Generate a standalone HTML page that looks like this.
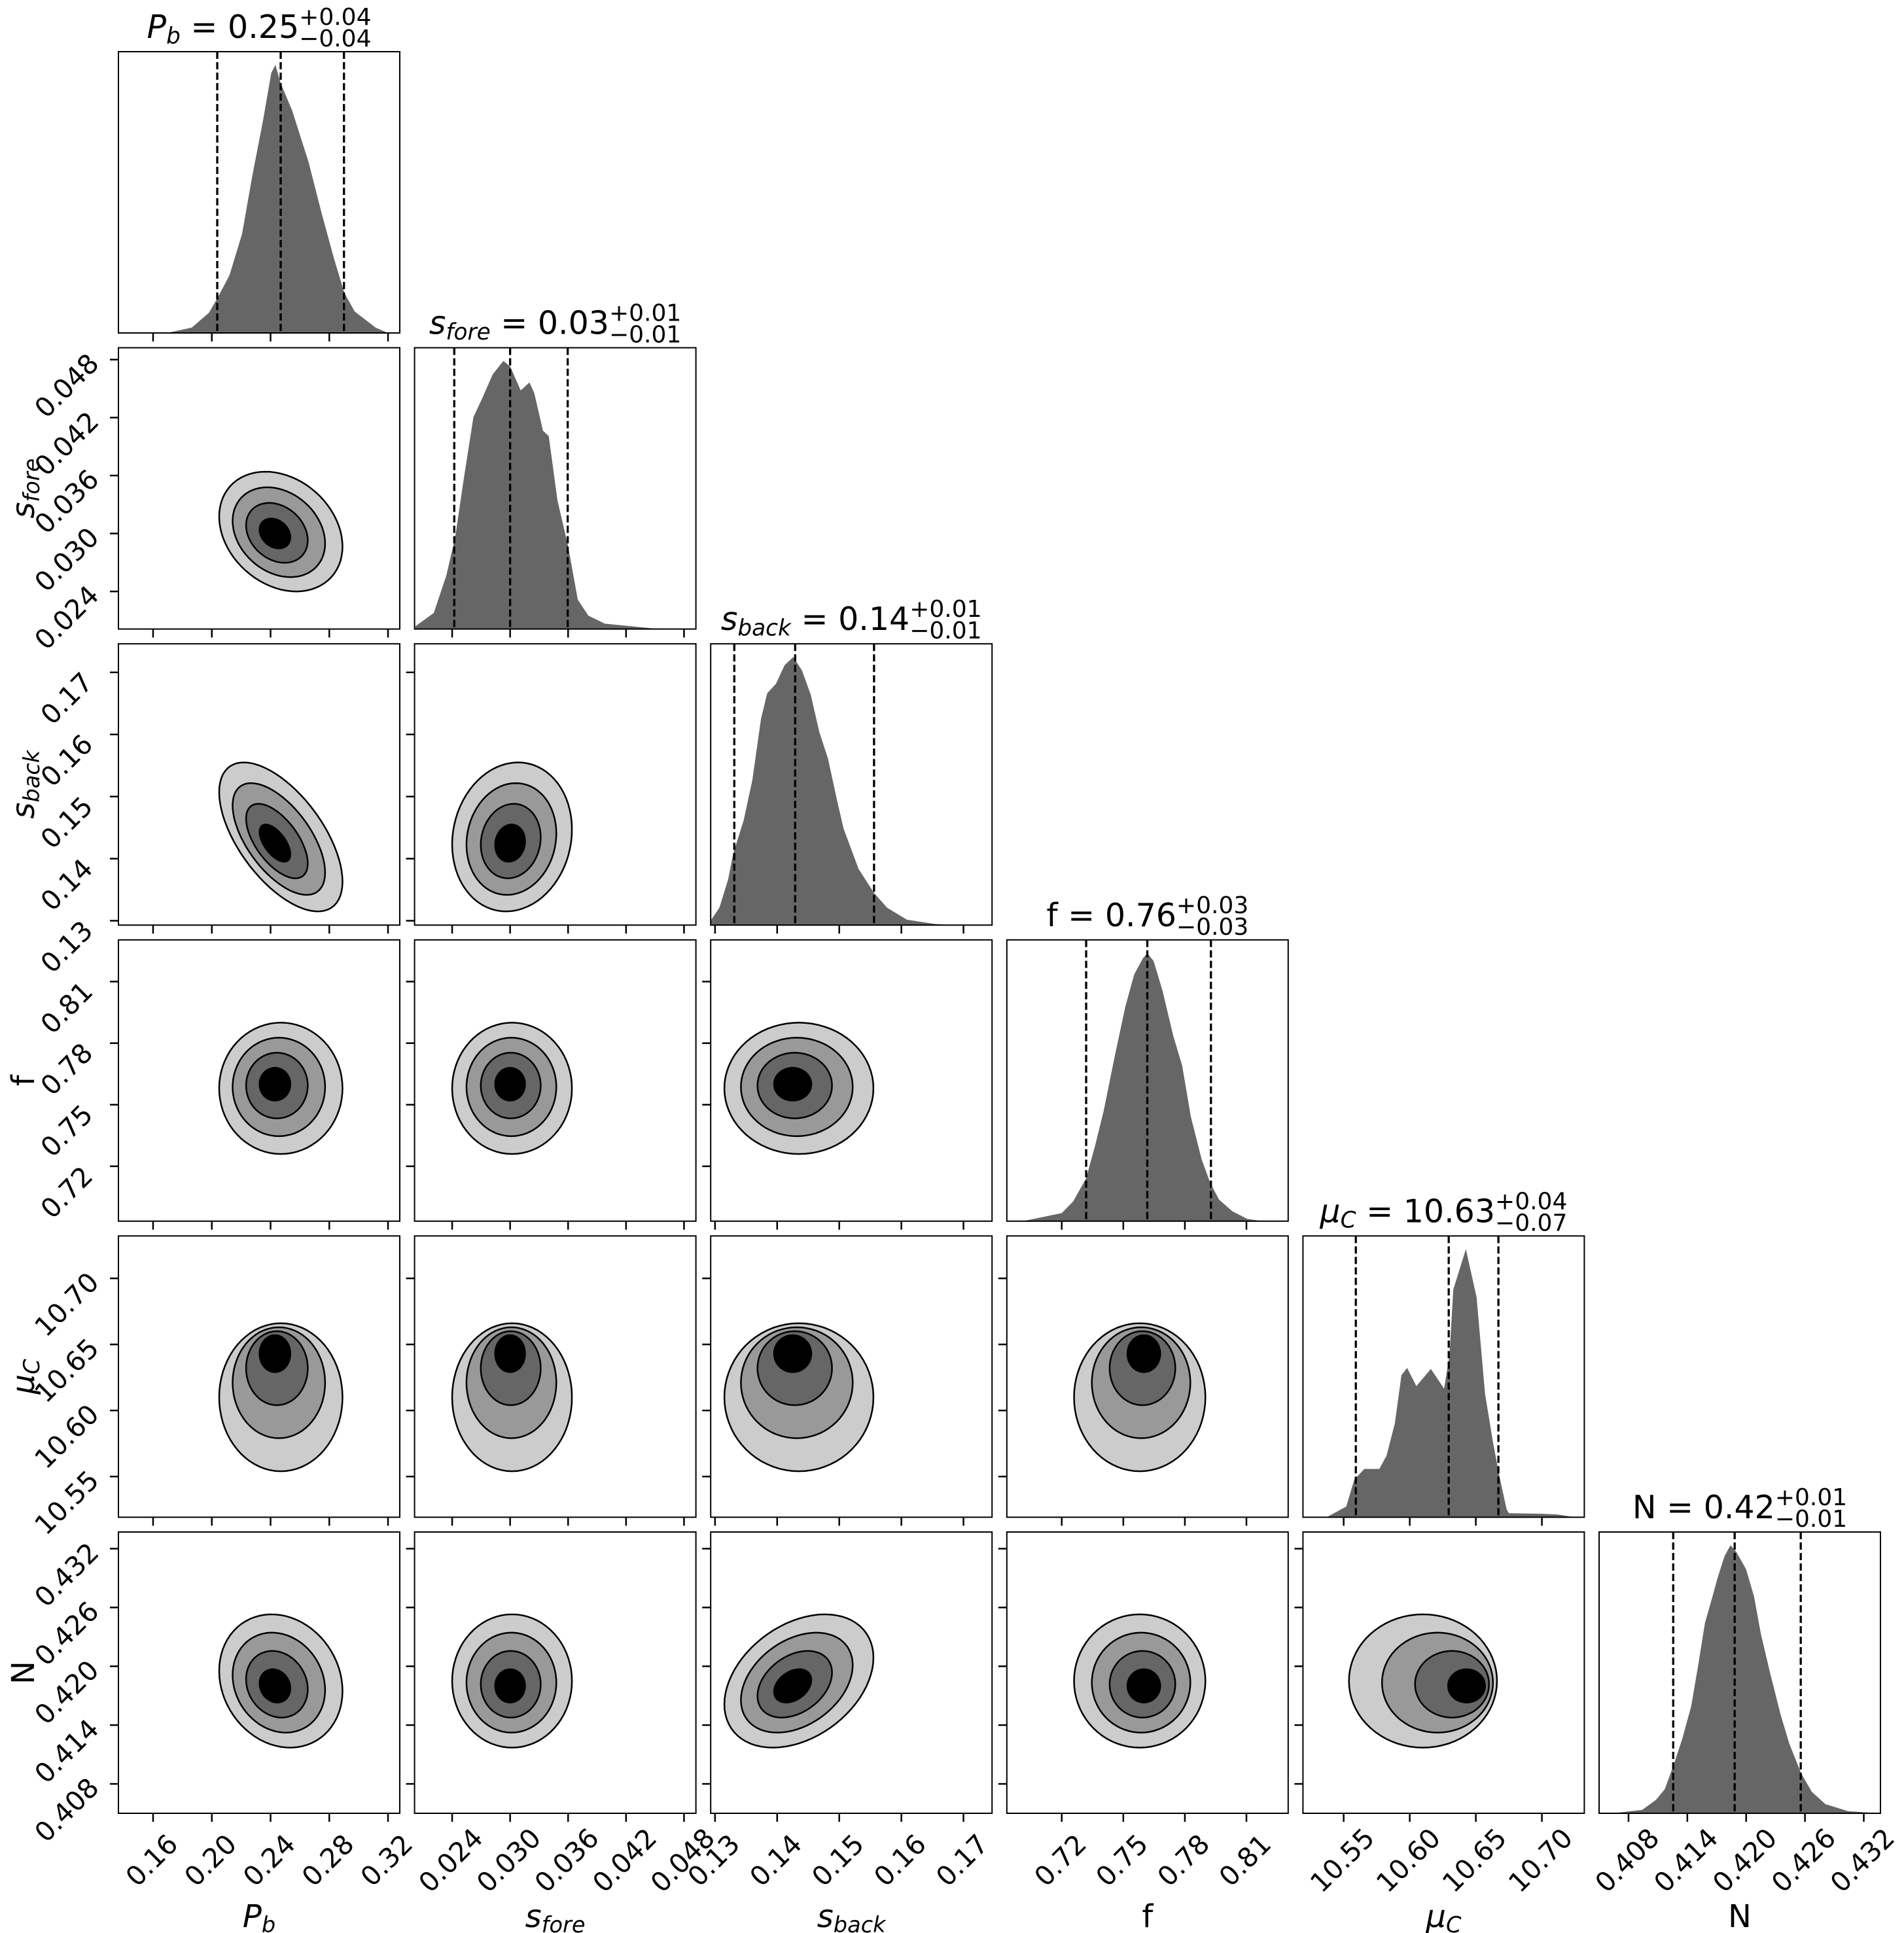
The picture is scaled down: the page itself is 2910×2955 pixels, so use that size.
<!DOCTYPE html>
<html><head><meta charset="utf-8">
<style>
html,body{margin:0;padding:0;background:#fff;}
svg{display:block;font-family:"DejaVu Sans","Liberation Sans",sans-serif;}
</style></head>
<body>
<svg id="fig" width="2910" height="2955" viewBox="0 0 2910 2955" xmlns="http://www.w3.org/2000/svg"></svg>
<script>
// ---- data ----
const paramNames = ["Pb","sfore","sback","f","muC","N"];
const rangeMin = [0.1364, 0.02011, 0.1293, 0.69325, 10.5192, 0.4050];
const rangeMax = [0.3280, 0.04923, 0.1746, 0.83034, 10.7321, 0.4337];
const tickPb = [0.16,0.20,0.24,0.28,0.32];
const tickSfore = [0.024,0.030,0.036,0.042,0.048];
const tickSback = [0.13,0.14,0.15,0.16,0.17];
const tickF = [0.72,0.75,0.78,0.81];
const tickMuC = [10.55,10.60,10.65,10.70];
const tickN = [0.408,0.414,0.420,0.426,0.432];
const tickLabelsPb = ["0.16","0.20","0.24","0.28","0.32"];
const tickLabelsSfore = ["0.024","0.030","0.036","0.042","0.048"];
const tickLabelsSback = ["0.13","0.14","0.15","0.16","0.17"];
const tickLabelsF = ["0.72","0.75","0.78","0.81"];
const tickLabelsMuC = ["10.55","10.60","10.65","10.70"];
const tickLabelsN = ["0.408","0.414","0.420","0.426","0.432"];
// quantiles (16, 50, 84)
const q16 = [0.2037, 0.02422, 0.1331, 0.7319, 10.5592, 0.41256];
const q50 = [0.2469, 0.03000, 0.1429, 0.7617, 10.6295, 0.41883];
const q84 = [0.2900, 0.03596, 0.1556, 0.7927, 10.6671, 0.42557];
// 1D histogram curves: values and relative heights
const histPbX = [0.1694,0.1864,0.198,0.2038,0.212,0.2206,0.2277,0.2348,0.2405,0.2433,0.247,0.2547,0.266,0.2746,0.2831,0.2902,0.2973,0.3115,0.32];
const histPbY = [0,0.02,0.075,0.13,0.215,0.37,0.59,0.79,0.97,1,0.93,0.83,0.635,0.45,0.28,0.15,0.08,0.02,0];
const histSforeX = [0.0202,0.0221,0.0234,0.0243,0.0252,0.0262,0.0271,0.0282,0.0293,0.030,0.0311,0.032,0.0325,0.0334,0.034,0.0349,0.036,0.037,0.0381,0.0398,0.0446,0.047];
const histSforeY = [0.01,0.06,0.2,0.34,0.56,0.79,0.86,0.95,1,0.98,0.89,0.92,0.88,0.74,0.72,0.48,0.31,0.11,0.05,0.02,0.003,0];
const histSbackX = [0.1293,0.1307,0.1321,0.1329,0.1346,0.1360,0.1374,0.1384,0.1398,0.1412,0.1426,0.1440,0.1454,0.1468,0.1482,0.1496,0.1507,0.1531,0.1556,0.1577,0.1609,0.1655,0.1686];
const histSbackY = [0.017,0.065,0.17,0.265,0.39,0.54,0.77,0.865,0.9,0.97,1,0.95,0.86,0.72,0.62,0.47,0.36,0.21,0.12,0.065,0.02,0.004,0];
const histFX = [0.7011,0.72,0.7256,0.7319,0.7362,0.7404,0.7457,0.751,0.7553,0.7595,0.7617,0.7648,0.7691,0.7744,0.7787,0.7829,0.7882,0.7925,0.7967,0.8031,0.8105,0.818];
const histFY = [0,0.03,0.074,0.16,0.28,0.41,0.61,0.8,0.92,0.98,1,0.97,0.86,0.69,0.58,0.39,0.23,0.14,0.08,0.037,0.008,0];
const histMuCX = [10.5371,10.552,10.558,10.5656,10.577,10.5825,10.5887,10.5937,10.598,10.605,10.616,10.626,10.630,10.633,10.6425,10.6506,10.657,10.663,10.668,10.6733,10.675,10.70,10.712,10.725];
const histMuCY = [0,0.04,0.14,0.18,0.18,0.23,0.35,0.53,0.557,0.489,0.553,0.48,0.6,0.85,1,0.82,0.46,0.28,0.15,0.03,0.015,0.013,0.01,0];
const histNX = [0.4064,0.4094,0.4108,0.4117,0.4126,0.4135,0.4144,0.4151,0.4158,0.4165,0.4171,0.4178,0.4184,0.419,0.42,0.4208,0.4215,0.4224,0.4235,0.4244,0.4256,0.4267,0.4281,0.4304,0.4336];
const histNY = [0,0.013,0.05,0.09,0.18,0.28,0.4,0.55,0.71,0.8,0.88,0.96,1,0.975,0.91,0.81,0.67,0.53,0.37,0.26,0.15,0.08,0.034,0.008,0];
// 2D contour parameters per variable
const contourCenterOuter = [0.247, 0.0302, 0.1435, 0.758, 10.610, 0.4185];
const contourCenterInner = [0.243, 0.0300, 0.1425, 0.760, 10.643, 0.4180];
const contourSigma = [0.021, 0.0031, 0.006, 0.016, 0.028, 0.0034];
// correlation for pair (col i, row j), j>i
const corrPairs = [[0,1,-0.25],[0,2,-0.6],[0,3,0],[0,4,0],[0,5,-0.15],
                   [1,2,0.1],[1,3,0],[1,4,0],[1,5,0],
                   [2,3,0],[2,4,0],[2,5,0.35],
                   [3,4,0],[3,5,0],[4,5,0]];
const levelRadii = [2,1.5,1,0.5];
const levelColors = ["#cccccc","#999999","#666666","#000000"];

// ---- layout ----
const X0=181, Y0=79, SZ=430, PITCH=452.6;
const svg=document.getElementById('fig');
const NS="http://www.w3.org/2000/svg";
const ticks=[tickPb,tickSfore,tickSback,tickF,tickMuC,tickN];
const tickLabels=[tickLabelsPb,tickLabelsSfore,tickLabelsSback,tickLabelsF,tickLabelsMuC,tickLabelsN];
const histX=[histPbX,histSforeX,histSbackX,histFX,histMuCX,histNX];
const histY=[histPbY,histSforeY,histSbackY,histFY,histMuCY,histNY];

function xs(i,v,col){return X0+col*PITCH+(v-rangeMin[i])/(rangeMax[i]-rangeMin[i])*SZ;}
function ys(i,v,row){return Y0+row*PITCH+SZ-(v-rangeMin[i])/(rangeMax[i]-rangeMin[i])*SZ;}
function mk(tag,attrs,parent){const e=document.createElementNS(NS,tag);for(const k in attrs)e.setAttribute(k,attrs[k]);(parent||svg).appendChild(e);return e;}

function labelParts(i){
  return [["P",true,"b"],["s",true,"fore"],["s",true,"back"],["f",false,""],["μ",true,"C"],["N",false,""]][i];
}
function addMathLabel(g,i,x,y,size,anchor,rot){
  const p=labelParts(i);
  const t=mk('text',{x:x,y:y,'font-size':size,'text-anchor':anchor,fill:'#000'},g);
  if(rot) t.setAttribute('transform',rot);
  const a=mk('tspan',{'font-style':p[1]?'italic':'normal'},t);a.textContent=p[0];
  if(p[2]){const b=mk('tspan',{'font-style':'italic','font-size':size*0.7,dy:size*0.17},t);b.textContent=p[2];}
  return t;
}

const titleNums=["0.25","0.03","0.14","0.76","10.63","0.42"];
const titlePlus=["+0.04","+0.01","+0.01","+0.03","+0.04","+0.01"];
const titleMinus=["−0.04","−0.01","−0.01","−0.03","−0.07","−0.01"];

const corrMap={};corrPairs.forEach(c=>corrMap[c[0]+'_'+c[1]]=c[2]);

for(let row=0;row<6;row++){
  for(let col=0;col<=row;col++){
    const px=X0+col*PITCH, py=Y0+row*PITCH;
    const g=mk('g',{});
    
    
    if(row===col){
      const i=col;
      let d='M'+xs(i,histX[i][0],col)+','+(py+SZ);
      for(let k=0;k<histX[i].length;k++){
        d+=' L'+xs(i,histX[i][k],col).toFixed(1)+','+(py+SZ-histY[i][k]*SZ*0.953).toFixed(1);
      }
      d+=' L'+xs(i,histX[i][histX[i].length-1],col).toFixed(1)+','+(py+SZ)+' Z';
      const h=mk('path',{d:d,fill:'#666666'},g);
      
      
      [q16[i],q50[i],q84[i]].forEach((q,qi)=>{
        const xx=xs(i,q,col);
        const l=mk('line',{x1:xx,x2:xx,y1:py,y2:py+SZ,stroke:'#000','stroke-width':3.3,'stroke-dasharray':'11 5'},g);
        
        
      });
      const tg=mk('g',{},g);
      
      
      const cx=px+SZ/2;
      const mainT=addMathLabel(tg,i,0,py-21,49,'start');
      const rest=mk('tspan',{dy:(labelParts(i)[2]?-49*0.17:0),'font-style':'normal','font-size':49},mainT);
      rest.textContent=' = '+titleNums[i];
      const sup=mk('text',{x:0,y:py-41,'font-size':36},tg);sup.textContent=titlePlus[i];
      const sub=mk('text',{x:0,y:py-8,'font-size':36},tg);sub.textContent=titleMinus[i];
      const mw=mainT.getComputedTextLength();
      const sw=Math.max(sup.getComputedTextLength(),sub.getComputedTextLength());
      const start=cx-(mw+sw)/2;
      mainT.setAttribute('x',start);
      sup.setAttribute('x',start+mw);sub.setAttribute('x',start+mw);
    } else {
      const i=col,j=row;
      const rho=corrMap[i+'_'+j]||0;
      levelRadii.forEach((r,li)=>{
        const fr=li/(levelRadii.length-1);
        const cxv=contourCenterOuter[i]+(contourCenterInner[i]-contourCenterOuter[i])*fr;
        const cyv=contourCenterOuter[j]+(contourCenterInner[j]-contourCenterOuter[j])*fr;
        let d='';
        for(let k=0;k<=72;k++){
          const t=k/72*2*Math.PI,u=Math.cos(t),w=Math.sin(t);
          const vx=cxv+r*contourSigma[i]*u;
          const vy=cyv+r*contourSigma[j]*(rho*u+Math.sqrt(1-rho*rho)*w);
          d+=(k?' L':'M')+xs(i,vx,col).toFixed(1)+','+ys(j,vy,row).toFixed(1);
        }
        d+=' Z';
        const e=mk('path',{d:d,fill:levelColors[li],stroke:'#000','stroke-width':2.5},g);
        
        
      });
      ticks[j].forEach((tv,k)=>{
        const yy=ys(j,tv,row);
        if(yy<py||yy>py+SZ) return;
        const tl=mk('line',{x1:px-13,x2:px,y1:yy,y2:yy,stroke:'#000','stroke-width':2.5},g);
        
        
        if(col===0){
          const lx=px-79, ly=yy+40;
          const tt=mk('text',{x:lx,y:ly,'font-size':41,'text-anchor':'middle','dominant-baseline':'central',transform:'rotate(-45 '+lx+' '+ly+')'},g);
          tt.textContent=tickLabels[j][k];
          
          
        }
      });
    }
    const fr=mk('rect',{x:px,y:py,width:SZ,height:SZ,fill:'none',stroke:'#000','stroke-width':2},g);
    
    
    ticks[col].forEach((tv,k)=>{
      const xx=xs(col,tv,col);
      if(xx<px||xx>px+SZ) return;
      const tl=mk('line',{x1:xx,x2:xx,y1:py+SZ,y2:py+SZ+13,stroke:'#000','stroke-width':2.5},g);
      
      
      if(row===5){
        const lx=xx-2, ly=py+SZ+72;
        const tt=mk('text',{x:lx,y:ly,'font-size':41,'text-anchor':'middle','dominant-baseline':'central',transform:'rotate(-45 '+lx+' '+ly+')'},g);
        tt.textContent=tickLabels[col][k];
        
        
      }
    });
  }
}
for(let i=0;i<6;i++){
  const g=mk('g',{});
  
  
  addMathLabel(g,i,X0+i*PITCH+SZ/2,2946,48,'middle');
  if(i>0){
    const g2=mk('g',{});
    
    
    const cy=Y0+i*PITCH+SZ/2;
    addMathLabel(g2,i,0,0,48,'middle','translate(52 '+cy+') rotate(-90)');
  }
}
</script>
</body></html>
